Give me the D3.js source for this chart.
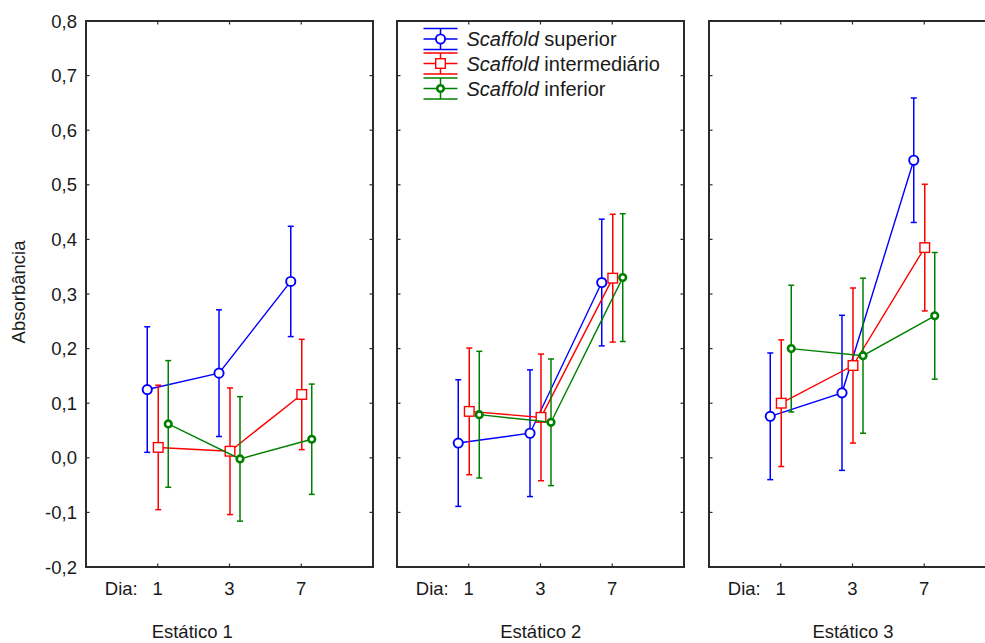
<!DOCTYPE html>
<html>
<head>
<meta charset="utf-8">
<script src="https://cdn.jsdelivr.net/npm/d3@7/dist/d3.min.js"></script>
<style>
  html, body { margin: 0; padding: 0; background: #fff; }
  svg { display: block; font-family: "Liberation Sans", Arial, sans-serif; }
</style>
</head>
<body>
<svg id="chart" width="985" height="643"></svg>
<script>
// Absorbance by day for three scaffold positions, one panel per static condition
const days = ["1", "3", "7"];
const panelTitles = ["Estático 1", "Estático 2", "Estático 3"];
const seriesNames = ["superior", "intermediário", "inferior"];
const yTicks = [-0.2, -0.1, 0.0, 0.1, 0.2, 0.3, 0.4, 0.5, 0.6, 0.7, 0.8];

// means per panel (rows) and day (columns)
const superiorMean = [
  [0.125, 0.155, 0.323],
  [0.027, 0.045, 0.321],
  [0.076, 0.119, 0.545]
];
const superiorErr = [
  [0.115, 0.116, 0.101],
  [0.116, 0.116, 0.116],
  [0.116, 0.142, 0.114]
];
const intermedioMean = [
  [0.019, 0.012, 0.116],
  [0.085, 0.074, 0.329],
  [0.100, 0.169, 0.385]
];
const intermedioErr = [
  [0.114, 0.116, 0.101],
  [0.116, 0.116, 0.117],
  [0.116, 0.142, 0.116]
];
const inferiorMean = [
  [0.062, -0.002, 0.034],
  [0.079, 0.065, 0.330],
  [0.200, 0.187, 0.260]
];
const inferiorErr = [
  [0.116, 0.114, 0.101],
  [0.116, 0.116, 0.117],
  [0.116, 0.142, 0.116]
];

const seriesColors = ["#0000ff", "#ff0000", "#008000"];
const seriesShift = [-10.5, 0.5, 10.5];
const means = [superiorMean, intermedioMean, inferiorMean];
const errs = [superiorErr, intermedioErr, inferiorErr];

const svg = d3.select("#chart");
const frameColor = "#2b2b2b";
const textColor = "#1a1a1a";
const fontSize = 18.5;

const plotTop = 21, plotBottom = 567;
const panelLeft = [86, 397, 709];
const panelWidth = 287;
const y = d3.scaleLinear().domain([-0.2, 0.8]).range([plotBottom, plotTop]);
const fmt = v => d3.format(".1f")(v).replace(".", ",").replace("−", "-");

// cell boundaries used to centre each panel title (includes the axis area)
const cellEdges = [0, 384.5, 697, 1009];

function drawMarker(sel, s, cx, cy) {
  const col = seriesColors[s];
  if (s === 0) {
    sel.append("circle").attr("cx", cx).attr("cy", cy).attr("r", 4.6)
      .attr("fill", "#fff").attr("stroke", col).attr("stroke-width", 1.9);
  } else if (s === 1) {
    sel.append("rect").attr("x", cx - 4.8).attr("y", cy - 4.8).attr("width", 9.6).attr("height", 9.6)
      .attr("fill", "#fff").attr("stroke", col).attr("stroke-width", 1.4);
  } else {
    sel.append("circle").attr("cx", cx).attr("cy", cy).attr("r", 3.3)
      .attr("fill", "#fff").attr("stroke", col).attr("stroke-width", 2.6);
  }
}

panelTitles.forEach((title, p) => {
  const x0 = panelLeft[p], x1 = x0 + panelWidth;
  const x = d3.scalePoint().domain(days).range([x0, x1]).padding(1);
  const g = svg.append("g");

  // inner ticks on all four sides
  const tickLen = 3.5;
  const ticksG = g.append("g").attr("stroke", frameColor).attr("stroke-width", 1.2);
  yTicks.forEach(t => {
    ticksG.append("line").attr("x1", x0).attr("x2", x0 + tickLen).attr("y1", y(t)).attr("y2", y(t));
    ticksG.append("line").attr("x1", x1).attr("x2", x1 - tickLen).attr("y1", y(t)).attr("y2", y(t));
  });
  days.forEach(d => {
    ticksG.append("line").attr("x1", x(d)).attr("x2", x(d)).attr("y1", plotTop).attr("y2", plotTop + tickLen);
    ticksG.append("line").attr("x1", x(d)).attr("x2", x(d)).attr("y1", plotBottom).attr("y2", plotBottom - tickLen);
  });

  // frame
  g.append("rect")
    .attr("x", x0).attr("y", plotTop)
    .attr("width", panelWidth).attr("height", plotBottom - plotTop)
    .attr("fill", "none").attr("stroke", frameColor).attr("stroke-width", 2);

  // y tick labels only on the first panel
  if (p === 0) {
    g.selectAll("text.ytick").data(yTicks).join("text")
      .attr("class", "ytick")
      .attr("x", x0 - 9).attr("y", d => y(d))
      .attr("dy", "0.36em")
      .attr("text-anchor", "end")
      .attr("font-size", fontSize)
      .attr("fill", textColor)
      .text(fmt);
  }

  // x tick labels
  g.selectAll("text.xtick").data(days).join("text")
    .attr("class", "xtick")
    .attr("x", d => x(d)).attr("y", 595)
    .attr("text-anchor", "middle")
    .attr("font-size", fontSize)
    .attr("fill", textColor)
    .text(d => d);
  g.append("text")
    .attr("x", x(days[0]) - 20).attr("y", 595)
    .attr("text-anchor", "end")
    .attr("font-size", fontSize)
    .attr("fill", textColor)
    .text("Dia:");

  // panel title
  g.append("text")
    .attr("x", (cellEdges[p] + cellEdges[p + 1]) / 2).attr("y", 638)
    .attr("text-anchor", "middle")
    .attr("font-size", fontSize)
    .attr("fill", textColor)
    .text(title);

  // series
  seriesNames.forEach((name, s) => {
    const col = seriesColors[s];
    const pts = days.map((d, i) => ({
      x: x(d) + seriesShift[s],
      m: means[s][p][i],
      e: errs[s][p][i]
    }));
    const sg = g.append("g");
    sg.append("path")
      .attr("d", d3.line().x(d => d.x).y(d => y(d.m))(pts))
      .attr("fill", "none").attr("stroke", col).attr("stroke-width", 1.4);
    pts.forEach(d => {
      const eb = sg.append("g").attr("stroke", col).attr("stroke-width", 1.5);
      eb.append("line").attr("x1", d.x).attr("x2", d.x).attr("y1", y(d.m - d.e)).attr("y2", y(d.m + d.e));
      eb.append("line").attr("x1", d.x - 3).attr("x2", d.x + 3).attr("y1", y(d.m + d.e)).attr("y2", y(d.m + d.e));
      eb.append("line").attr("x1", d.x - 3).attr("x2", d.x + 3).attr("y1", y(d.m - d.e)).attr("y2", y(d.m - d.e));
    });
    pts.forEach(d => drawMarker(sg, s, d.x, y(d.m)));
  });
});

// y axis title
svg.append("text")
  .attr("transform", "translate(25,292) rotate(-90)")
  .attr("text-anchor", "middle")
  .attr("font-size", fontSize)
  .attr("fill", textColor)
  .text("Absorbância");

// legend inside the second panel
const legendRows = [39, 63.5, 88.5];
const lg = svg.append("g");
seriesNames.forEach((name, s) => {
  const cy = legendRows[s], cx = 440.5, col = seriesColors[s];
  const row = lg.append("g").attr("stroke", col).attr("stroke-width", 1.5);
  row.append("line").attr("x1", cx - 17).attr("x2", cx + 17).attr("y1", cy).attr("y2", cy);
  row.append("line").attr("x1", cx - 17).attr("x2", cx + 17).attr("y1", cy - 10.5).attr("y2", cy - 10.5);
  row.append("line").attr("x1", cx - 17).attr("x2", cx + 17).attr("y1", cy + 10.5).attr("y2", cy + 10.5);
  row.append("line").attr("x1", cx).attr("x2", cx).attr("y1", cy - 10.5).attr("y2", cy + 10.5);
  drawMarker(lg, s, cx, cy);
  const t = lg.append("text")
    .attr("x", 466.5).attr("y", cy).attr("dy", "0.36em")
    .attr("font-size", 20)
    .attr("fill", textColor);
  t.append("tspan").attr("font-style", "italic").text("Scaffold");
  t.append("tspan").text(" " + name);
});
</script>
</body>
</html>
